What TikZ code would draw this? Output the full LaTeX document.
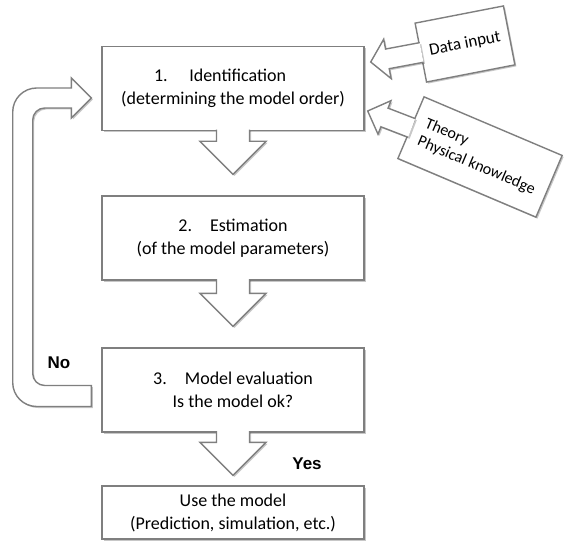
\documentclass[tikz,border=0pt]{standalone}
\usepackage{fontspec}
\setmainfont{Carlito}
\newfontfamily\labelfont{Liberation Sans}
\usetikzlibrary{calc,shadows}
\definecolor{edgegray}{RGB}{127,127,127}
\tikzset{
  outl/.style={draw=edgegray, line width=1.4pt, fill=white, line join=miter},
  shad/.style={drop shadow={shadow xshift=1.5pt, shadow yshift=-1.5pt, opacity=0.22, fill=black}},
  mainbox/.style={outl, shad, minimum width=262pt, minimum height=84pt, inner sep=0pt, align=center, font=\fontsize{18}{23}\selectfont},
  sidebox/.style={outl, shad, inner sep=0pt},
  arrowshape/.style={outl, shad},
  answer/.style={font=\labelfont\bfseries\fontsize{17}{20}\selectfont, inner sep=0pt},
}
% #1 base, #2 tip, #3 half stem width, #4 half head width, #5 head length
\newcommand\blockarrow[5]{%
  \coordinate (bas) at (#1);
  \coordinate (bat) at (#2);
  \coordinate (bah) at ($(bat)!#5!(bas)$);
  \draw[arrowshape] ($(bas)!#3!90:(bat)$) -- ($(bah)!#3!-90:(bas)$) -- ($(bah)!#4!-90:(bas)$) -- (bat) -- ($(bah)!#4!90:(bas)$) -- ($(bah)!#3!90:(bas)$) -- ($(bas)!#3!-90:(bat)$);
}
\begin{document}
\begin{tikzpicture}[x=1pt,y=1pt]
\useasboundingbox (0,0) rectangle (565,542);
% main boxes
\node[mainbox] (b1) at (233,453.5) {\hspace*{-26pt}1.\hspace{1.2em}Identification\\(determining the model order)};
\node[mainbox] (b2) at (233,304) {2.\hspace{1em}Estimation\\(of the model parameters)};
\node[mainbox] (b3) at (233,152) {3.\hspace{1em}Model evaluation\\Is the model ok?};
\node[mainbox, minimum height=53pt] (b4) at (233,29.5) {Use the model\\(Prediction, simulation, etc.)};
% side boxes
\node[sidebox, rotate=11, minimum width=90pt, minimum height=60pt, align=center, font=\fontsize{17}{20}\selectfont] (dat) at (465,498) {Data input};
\node[sidebox, rotate=-23, minimum width=150pt, minimum height=67pt, align=left, font=\fontsize{16}{19}\selectfont] (th) at (480,385) {Theory\\Physical knowledge};
% down arrows
\blockarrow{$(b1.south)+(0,1.5)$}{$(b2.north)+(0,21)$}{16.5pt}{33pt}{33pt}
\blockarrow{$(b2.south)+(0,1.5)$}{$(b3.north)+(0,21)$}{16.5pt}{33pt}{33pt}
\blockarrow{$(b3.south)+(0,1.5)$}{$(b4.north)+(0,10)$}{16.5pt}{33pt}{33pt}
% side arrows
\coordinate (dtip) at ($(b1.east)+(6,26.5)$);
\blockarrow{$(dat.west)!-1.5pt!(dtip)$}{dtip}{10pt}{20pt}{17pt}
\coordinate (ttip) at ($(b1.east)+(3,-22.5)$);
\blockarrow{$(th.west)!-1.5pt!(ttip)$}{ttip}{10pt}{18pt}{18pt}
% loop arrow (No)
\coordinate (ltail) at ($(b3.west)+(-10,-6)$);
\coordinate (lhead) at ($(b1.west)+(-10,-9.5)$);
\draw[outl, shad] let \p1=(ltail), \p2=(lhead) in
  (\x1,{\y1+10.5}) -- ({32.7+12},{\y1+10.5})
  .. controls ({32.7+5.37},{\y1+10.5}) and (32.7,{\y1+10.5+5.37}) .. (32.7,{\y1+10.5+12})
  -- (32.7,{\y2-10-12})
  .. controls (32.7,{\y2-10-5.37}) and ({32.7+5.37},{\y2-10}) .. ({32.7+12},{\y2-10})
  -- ({\x2-20},{\y2-10}) -- ({\x2-20},{\y2-20}) -- (\x2,\y2) -- ({\x2-20},{\y2+20}) -- ({\x2-20},{\y2+10})
  -- ({12.7+24},{\y2+10})
  .. controls ({12.7+10.75},{\y2+10}) and (12.7,{\y2+10-10.75}) .. (12.7,{\y2+10-24})
  -- (12.7,{\y1-10.5+24})
  .. controls (12.7,{\y1-10.5+10.75}) and ({12.7+10.75},{\y1-10.5}) .. ({12.7+24},{\y1-10.5})
  -- (\x1,{\y1-10.5}) -- cycle;
% answers
\node[answer] (no) at (59,179) {No};
\node[answer] (yes) at (307,78) {Yes};
\end{tikzpicture}
\end{document}
